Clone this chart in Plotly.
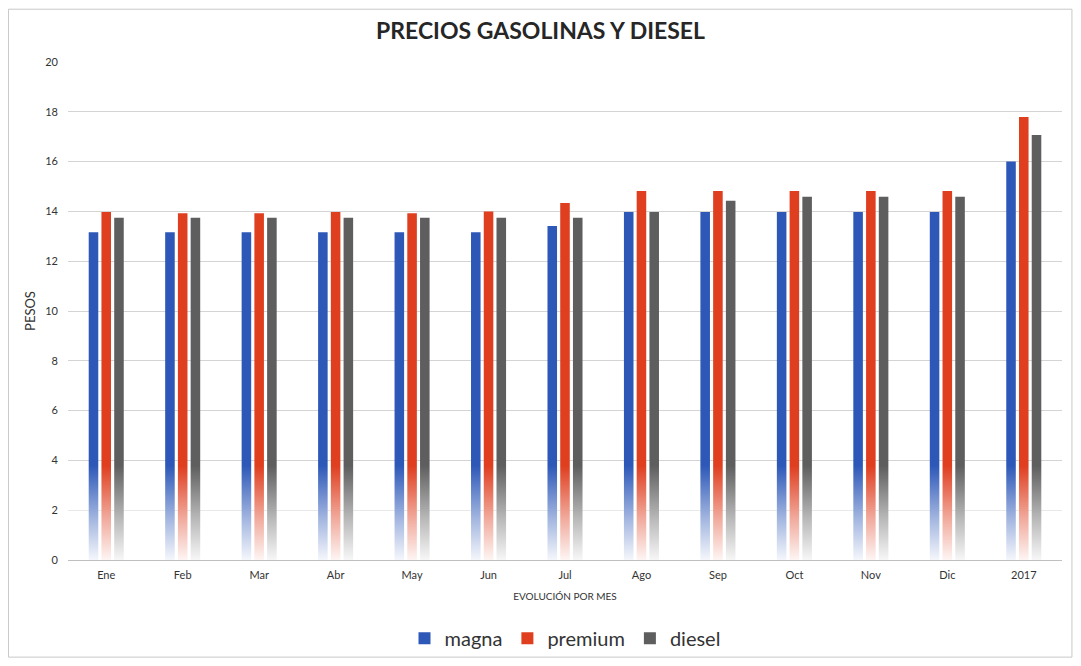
import plotly.graph_objects as go

# Precios mensuales por litro (pesos)
meses = ["Ene", "Feb", "Mar", "Abr", "May", "Jun", "Jul", "Ago", "Sep", "Oct", "Nov", "Dic", "2017"]
magna = [13.16, 13.16, 13.16, 13.16, 13.16, 13.16, 13.41, 13.98, 13.98, 13.98, 13.98, 13.98, 16.0]
premium = [13.98, 13.93, 13.93, 13.98, 13.93, 14.0, 14.34, 14.82, 14.82, 14.82, 14.82, 14.82, 17.79]
diesel = [13.75, 13.75, 13.75, 13.75, 13.75, 13.75, 13.75, 13.98, 14.43, 14.59, 14.59, 14.59, 17.07]

series = [
    ("magna", magna, "#2d58b8"),
    ("premium", premium, "#df3e1f"),
    ("diesel", diesel, "#5e5e5e"),
]

FONT = "Lato"

fig = go.Figure()

for name, values, color in series:
    fig.add_trace(
        go.Bar(
            name=name,
            x=meses,
            y=values,
            marker=dict(color=color, line=dict(width=0)),
            hovertemplate="%{x}: %{y:.2f}<extra>" + name + "</extra>",
        )
    )

# white fade towards the baseline, imitating the gradient fill of the bars
fig.add_trace(
    go.Scatter(
        x=[0, 1, 1, 0, 0],
        y=[0, 0, 3.8, 3.8, 0],
        xaxis="x2",
        mode="lines",
        line=dict(width=0),
        fill="toself",
        fillgradient=dict(
            type="vertical",
            colorscale=[
                [0.0, "rgba(255,255,255,0.95)"],
                [0.45, "rgba(255,255,255,0.55)"],
                [1.0, "rgba(255,255,255,0)"],
            ],
        ),
        showlegend=False,
        hoverinfo="skip",
    )
)

fig.update_layout(
    width=1065,
    height=650,
    paper_bgcolor="white",
    plot_bgcolor="white",
    font=dict(family=FONT, color="#333333"),
    title=dict(
        text="<b>PRECIOS GASOLINAS Y DIESEL</b>",
        x=0.5,
        xanchor="center",
        y=0.965,
        yanchor="middle",
        font=dict(size=23, color="#262626"),
    ),
    barmode="group",
    bargap=0.5,
    bargroupgap=0.25,
    margin=dict(l=60, r=11, t=54, b=98, autoexpand=False),
    xaxis=dict(
        showgrid=False,
        showline=True,
        linecolor="#bfbfbf",
        linewidth=1,
        ticks="",
        ticklabelstandoff=5,
        tickfont=dict(size=11, color="#333333"),
        title=dict(text="EVOLUCIÓN POR MES", font=dict(size=10, color="#333333"), standoff=12),
    ),
    xaxis2=dict(overlaying="x", range=[0, 1], visible=False),
    yaxis=dict(
        range=[0, 20],
        dtick=2,
        showgrid=True,
        gridcolor="#d4d4d4",
        zeroline=False,
        showline=False,
        ticks="",
        ticklabelstandoff=9,
        tickfont=dict(size=11, color="#333333"),
        title=dict(text="PESOS", font=dict(size=13, color="#333333"), standoff=6),
    ),
    legend=dict(
        orientation="h",
        x=0.5,
        xanchor="center",
        y=-0.157,
        yanchor="middle",
        bgcolor="rgba(0,0,0,0)",
        font=dict(size=20, color="#333333"),
        itemwidth=30,
    ),
    shapes=[
        dict(
            type="rect",
            xref="paper",
            yref="paper",
            x0=-0.0599,
            x1=1.010,
            y0=-0.195,
            y1=1.106,
            line=dict(color="#c8c8c8", width=1),
        )
    ],
)

fig.write_html("out.html")
